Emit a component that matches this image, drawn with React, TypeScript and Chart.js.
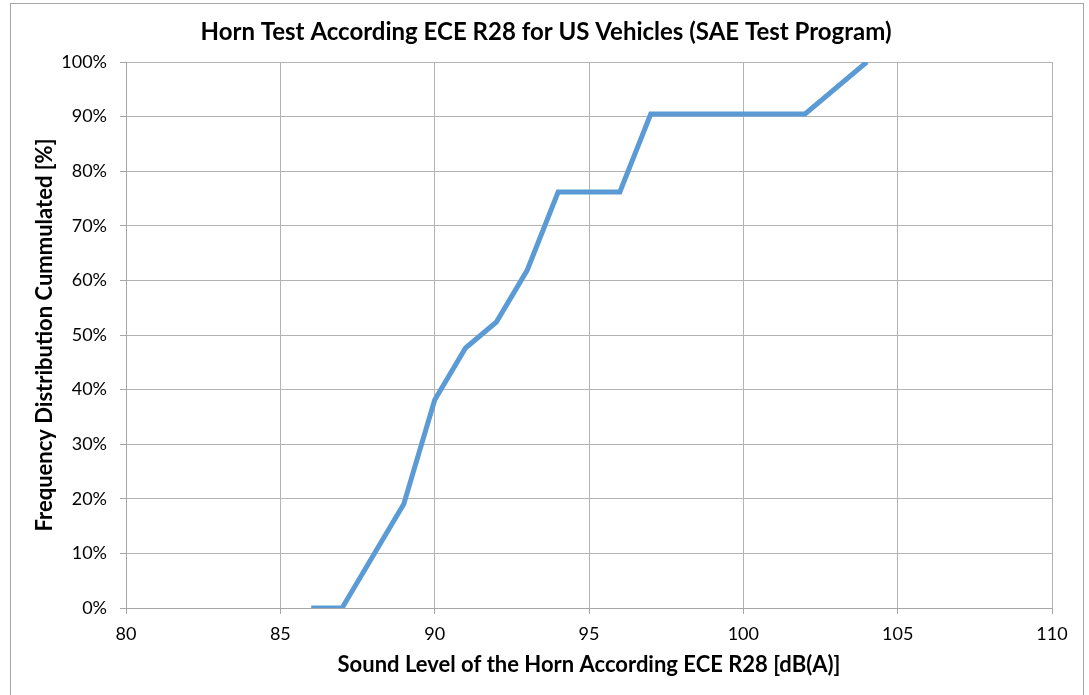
import React, { useEffect, useRef } from "react";
import { Chart, registerables } from "chart.js";

Chart.register(...registerables);

const soundLevels = [86, 87, 88, 89, 90, 91, 92, 93, 94, 96, 97, 102, 104];
const cumulatedPct = [0, 0, 9.52, 19.05, 38.1, 47.62, 52.38, 61.9, 76.19, 76.19, 90.48, 90.48, 100];
const xTicks = [80, 85, 90, 95, 100, 105, 110];

const FONT = "Lato, 'Open Sans', sans-serif";

const borderPlugin = {
  id: "outerBorder",
  afterLayout(chart: any) {
    const tb = chart.titleBlock;
    if (tb) {
      tb.left += 15;
      tb.right += 15;
    }
  },
  beforeDraw(chart: any) {
    const ctx = chart.ctx;
    ctx.save();
    ctx.fillStyle = "#ffffff";
    ctx.fillRect(0, 0, chart.width, chart.height);
    ctx.strokeStyle = "#a6a6a6";
    ctx.lineWidth = 1;
    ctx.strokeRect(10.5, 3.5, 1073, 700);
    ctx.restore();
  },
};

export default function App() {
  const ref = useRef<HTMLCanvasElement | null>(null);
  useEffect(() => {
    if (!ref.current) return;
    const chart = new Chart(ref.current, {
      type: "line",
      data: {
        datasets: [
          {
            data: soundLevels.map((x, i) => ({ x, y: cumulatedPct[i] })),
            borderColor: "#5b9bd5",
            borderWidth: 5,
            pointRadius: 0,
            tension: 0,
            fill: false,
          },
        ],
      },
      options: {
        animation: false,
        responsive: false,
        devicePixelRatio: 1,
        layout: { padding: { left: 10, right: 37, top: 0, bottom: 0 } },
        plugins: {
          legend: { display: false },
          tooltip: { enabled: false },
          title: {
            display: true,
            text: "Horn Test According ECE R28 for US Vehicles (SAE Test Program)",
            color: "#000000",
            font: { family: FONT, size: 24, weight: "bold", lineHeight: 1.2 },
            padding: { top: 17.6, bottom: 15.6 },
          },
        },
        scales: {
          x: {
            type: "linear",
            min: 80,
            max: 110,
            afterBuildTicks: (scale: any) => {
              scale.ticks = xTicks.map((v) => ({ value: v }));
            },
            afterFit: (scale: any) => {
              scale.height = 87;
            },
            ticks: {
              color: "#000000",
              font: { family: FONT, size: 18 },
              padding: 9,
              maxRotation: 0,
            },
            grid: {
              color: "#b3b3b3",
              tickColor: "#a6a6a6",
              tickLength: 6,
              drawTicks: true,
            },
            border: { color: "#a6a6a6" },
            title: {
              display: true,
              text: "Sound Level of the Horn According ECE R28 [dB(A)]",
              color: "#000000",
              font: { family: FONT, size: 22, weight: "bold", lineHeight: 1.2 },
              padding: { top: 0, bottom: 17 },
            },
          },
          y: {
            type: "linear",
            min: 0,
            max: 100,
            afterFit: (scale: any) => {
              scale.width = 116;
            },
            ticks: {
              stepSize: 10,
              color: "#000000",
              font: { family: FONT, size: 18 },
              padding: 13,
              callback: (v: any) => `${v}%`,
            },
            grid: {
              color: "#b3b3b3",
              tickColor: "#a6a6a6",
              tickLength: 6,
              drawTicks: true,
            },
            border: { color: "#a6a6a6" },
            title: {
              display: true,
              text: "Frequency Distribution Cummulated [%]",
              color: "#000000",
              font: { family: FONT, size: 22, weight: "bold", lineHeight: 1.2 },
              padding: { top: 22, bottom: 0 },
            },
          },
        },
      },
      plugins: [borderPlugin],
    } as any);
    return () => chart.destroy();
  }, []);
  return (
    <div style={{ position: "absolute", left: 0, top: 0, width: 1089, height: 695, background: "#fff" }}>
      <canvas ref={ref} width={1089} height={695} style={{ display: "block" }} />
    </div>
  );
}
